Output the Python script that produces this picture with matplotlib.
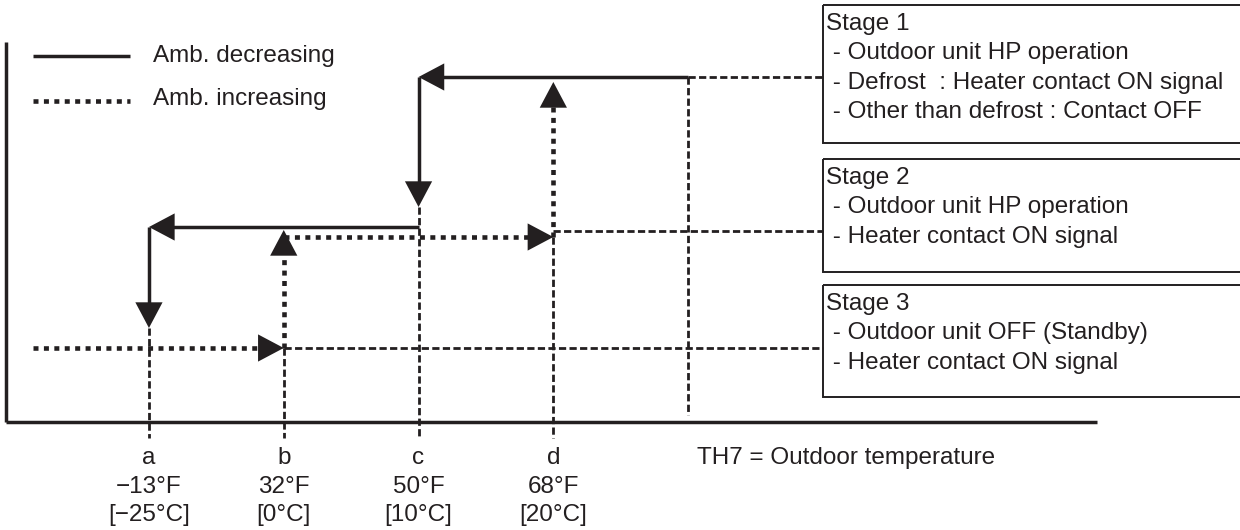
import matplotlib
matplotlib.use("Agg")
import matplotlib.pyplot as plt
from matplotlib.patches import Rectangle

plt.rcParams['font.family'] = ['Liberation Sans', 'DejaVu Sans']
plt.rcParams['lines.scale_dashes'] = False

# thresholds on the outdoor temperature axis
points = ['a', 'b', 'c', 'd']
temp_f = ['\u221213\u00b0F', '32\u00b0F', '50\u00b0F', '68\u00b0F']
temp_c = ['[\u221225\u00b0C]', '[0\u00b0C]', '[10\u00b0C]', '[20\u00b0C]']
axis_note = 'TH7 = Outdoor temperature'

stage_titles = ['Stage 1', 'Stage 2', 'Stage 3']
stage_lines = [
    [' - Outdoor unit HP operation', ' - Defrost  : Heater contact ON signal',
     ' - Other than defrost : Contact OFF'],
    [' - Outdoor unit HP operation', ' - Heater contact ON signal'],
    [' - Outdoor unit OFF (Standby)', ' - Heater contact ON signal'],
]
legend_labels = ['Amb. decreasing', 'Amb. increasing']

# stage change points (threshold index, from stage, to stage)
dec_steps = [(2, 1, 2), (0, 2, 3)]   # ambient decreasing
inc_steps = [(1, 3, 2), (3, 2, 1)]   # ambient increasing

ink = '#231f20'
fs = 17.5
dotted = dict(color=ink, lw=3.3, dashes=(3.6, 3.9))
dashed = dict(color=ink, lw=2.0, dashes=(5.2, 2.4))
solid = dict(color=ink, lw=2.5, solid_capstyle='butt')

# row heights (pixels from top) of each stage line
row_dec = {1: 77, 2: 227, 3: 348}
row_inc = {1: 77, 2: 237, 3: 348}
row_ref = {1: 77, 2: 231, 3: 348}
box_top = [5, 159, 285]
box_bot = [143, 272, 397]

fig = plt.figure(figsize=(12.4, 5.3), dpi=100)
ax = fig.add_axes([0, 0, 1, 1])
ax.set_xlim(-1.105, 8.094)
ax.set_ylim(530, 0)
ax.axis('off')


def head(x, y, ox, oy):
    ax.annotate('', xy=(x, y), xytext=(ox, oy), textcoords='offset points',
                arrowprops=dict(arrowstyle='-|>,head_length=18.5,head_width=9.8',
                                mutation_scale=1, lw=0, color=ink,
                                shrinkA=0, shrinkB=0))


# axes
ax.plot([-1.06, -1.06], [42, 422], **solid)
ax.plot([-1.06, 7.03], [422, 422], **solid)

# ambient decreasing (solid)
ax.plot([4, 2 + 0.08], [row_dec[1]] * 2, **solid)
head(2, row_dec[1], 22, 0)
for i, s0, s1 in dec_steps:
    ax.plot([i, i], [row_dec[s0], row_dec[s1] - 30], **solid)
    head(i, row_dec[s1] - 20, 0, 22)
ax.plot([2, 0 + 0.08], [row_dec[2]] * 2, **solid)
head(0, row_dec[2], 22, 0)

# ambient increasing (dotted)
ax.plot([-0.86, 1 - 0.1], [row_inc[3]] * 2, **dotted)
head(1, row_inc[3], -22, 0)
ax.plot([1, 3 - 0.1], [row_inc[2]] * 2, **dotted)
head(3, row_inc[2], -22, 0)
for i, s0, s1 in inc_steps:
    tip = row_dec[s1] + 3 if s1 == 2 else row_inc[s1] + 5
    ax.plot([i, i], [row_inc[s0], tip + 12], **dotted)
    head(i, tip, 0, -22)

# guide lines
tops = [row_dec[3] - 20, row_inc[3], row_dec[2] - 20, row_inc[2]]
for i, t in enumerate(tops):
    ax.plot([i, i], [t, 438], **dashed)
ax.plot([4, 4], [row_ref[1], 415], **dashed)
ax.plot([4, 5], [row_ref[1]] * 2, **dashed)
ax.plot([3, 5], [row_ref[2]] * 2, **dashed)
ax.plot([1, 5], [row_ref[3]] * 2, **dashed)

# stage boxes
for k, title in enumerate(stage_titles):
    ax.add_patch(Rectangle((5, box_top[k]), 3.3, box_bot[k] - box_top[k],
                           fill=False, ec=ink, lw=1.4))
    rows = [title] + stage_lines[k]
    for j, txt in enumerate(rows):
        ax.text(5.02, box_top[k] + 19 + 29.5 * j, txt, fontsize=fs,
                color=ink, va='center', ha='left')

# threshold labels
for i in range(len(points)):
    ax.text(i, 458, points[i], fontsize=fs, color=ink, ha='center', va='center')
    ax.text(i, 487, temp_f[i], fontsize=fs, color=ink, ha='center', va='center')
    ax.text(i, 515, temp_c[i], fontsize=fs, color=ink, ha='center', va='center')
ax.text(4.065, 458, axis_note, fontsize=fs, color=ink, ha='left', va='center')

# legend
ax.plot([-0.86, -0.14], [56, 56], **solid)
ax.plot([-0.86, -0.14], [101, 101], **dotted)
ax.text(0.03, 56, legend_labels[0], fontsize=fs, color=ink, va='center')
ax.text(0.03, 99, legend_labels[1], fontsize=fs, color=ink, va='center')

fig.savefig('out.png', dpi=100)
